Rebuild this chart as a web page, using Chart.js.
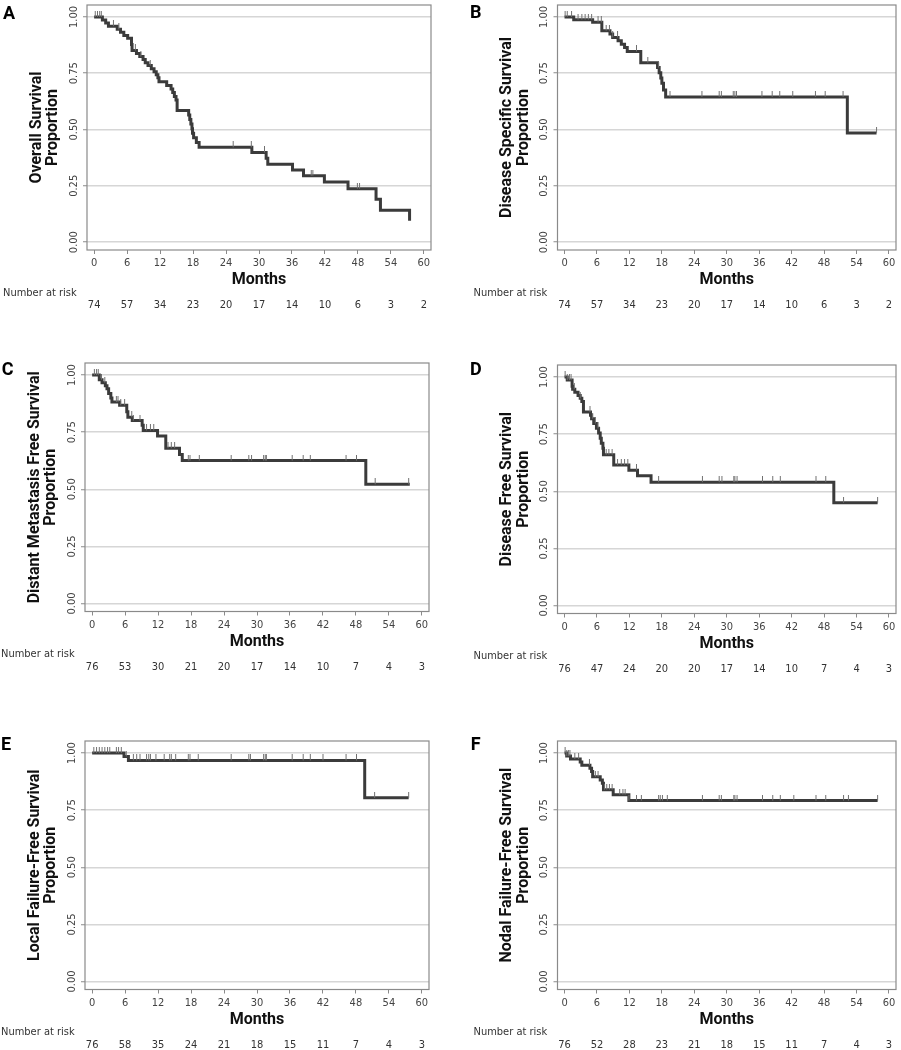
<!DOCTYPE html>
<html>
<head>
<meta charset="utf-8">
<script src="https://cdn.jsdelivr.net/npm/chart.js@4.4.0/dist/chart.umd.min.js"></script>
<style>
  body { margin: 0; background: #fff; }
  #page { position: relative; width: 901px; height: 1050px; overflow: hidden; }
  #page canvas { position: absolute; }
</style>
</head>
<body>
<div id="page"></div>
<script>
// axis ticks shared by all six panels
const xTicks = [0, 6, 12, 18, 24, 30, 36, 42, 48, 54, 60]
const yTicks = [0, 0.25, 0.5, 0.75, 1]

// A - overall survival
const aTimes = [0, 1.5, 2.1, 2.6, 4.2, 4.8, 5.4, 6.1, 6.8, 6.9, 7.7, 8.3, 8.9, 9.3, 9.8, 10.4, 10.9, 11.3, 11.6, 11.8, 13.2, 14.0, 14.3, 14.6, 14.9, 15.1, 17.2, 17.4, 17.6, 17.8, 17.9, 18.1, 18.6, 19.1, 28.7, 31.3, 31.6, 36.1, 38.1, 41.9, 46.2, 51.3, 52.1, 57.4]
const aSurv = [1, 0.986, 0.973, 0.959, 0.945, 0.932, 0.918, 0.905, 0.878, 0.851, 0.838, 0.824, 0.811, 0.797, 0.784, 0.770, 0.757, 0.743, 0.730, 0.712, 0.696, 0.680, 0.664, 0.647, 0.631, 0.585, 0.565, 0.545, 0.524, 0.504, 0.483, 0.463, 0.442, 0.421, 0.398, 0.372, 0.346, 0.320, 0.295, 0.267, 0.237, 0.190, 0.142, 0.095]
const aCensor = [0.2, 0.6, 1.0, 1.3, 3.5, 4.5, 7.5, 8.5, 10.2, 25.3, 28.6, 31.0, 39.5, 39.8, 47.9, 48.3]
const aRisk = [74, 57, 34, 23, 20, 17, 14, 10, 6, 3, 2]

// B - disease specific survival
const bTimes = [0, 1.7, 5.2, 6.9, 8.4, 8.9, 9.9, 10.5, 11.1, 11.6, 14.1, 17.2, 17.5, 17.8, 18.0, 18.3, 18.7, 52.3, 57.7]
const bSurv = [1, 0.988, 0.976, 0.939, 0.924, 0.909, 0.894, 0.879, 0.864, 0.847, 0.797, 0.775, 0.752, 0.729, 0.706, 0.675, 0.645, 0.485, 0.485]
const bCensor = [0.1, 0.5, 1.3, 2.5, 3.2, 3.8, 4.4, 5.0, 6.2, 6.8, 7.7, 8.3, 8.9, 9.8, 13.3, 15.4, 17.4, 19.5, 25.4, 28.6, 29.0, 31.2, 31.5, 31.8, 36.5, 38.4, 39.8, 42.2, 46.4, 48.2, 51.5, 57.7]
const bRisk = [74, 57, 34, 23, 20, 17, 14, 10, 6, 3, 2]

// C - distant metastasis free survival
const cTimes = [0, 1.3, 1.8, 2.4, 2.7, 3.0, 3.4, 3.6, 5.0, 6.3, 6.5, 7.3, 9.1, 9.3, 11.9, 13.4, 15.9, 16.4, 49.8, 57.8]
const cSurv = [1, 0.98, 0.967, 0.953, 0.94, 0.92, 0.9, 0.882, 0.868, 0.84, 0.815, 0.801, 0.78, 0.758, 0.733, 0.68, 0.652, 0.626, 0.522, 0.522]
const cCensor = [0.4, 0.8, 1.1, 1.7, 2.3, 4.4, 4.7, 5.2, 5.9, 7.2, 7.5, 8.7, 9.9, 10.6, 11.2, 13.8, 14.4, 15.0, 17.5, 17.8, 19.5, 25.3, 28.5, 29.0, 31.2, 31.5, 31.7, 36.4, 38.4, 39.7, 46.2, 48.1, 51.5, 57.6]
const cRisk = [76, 53, 30, 21, 20, 17, 14, 10, 7, 4, 3]

// D - disease free survival
const dTimes = [0, 0.5, 1.4, 1.5, 1.9, 2.5, 2.9, 3.2, 3.5, 4.8, 5.0, 5.4, 5.9, 6.3, 6.6, 6.8, 7.1, 7.2, 9.1, 11.9, 13.5, 16.0, 49.8, 57.9]
const dSurv = [1, 0.987, 0.96, 0.947, 0.934, 0.92, 0.907, 0.893, 0.847, 0.833, 0.818, 0.797, 0.776, 0.755, 0.732, 0.71, 0.688, 0.66, 0.615, 0.592, 0.568, 0.54, 0.45, 0.45]
const dCensor = [0.1, 0.5, 0.9, 1.2, 1.8, 2.9, 4.7, 5.2, 5.7, 6.2, 7.7, 8.2, 8.8, 9.8, 10.5, 11.1, 11.7, 13.3, 17.4, 25.5, 28.6, 29.1, 31.3, 31.5, 31.9, 36.6, 38.5, 39.9, 46.5, 48.3, 51.6, 57.9]
const dRisk = [76, 47, 24, 20, 20, 17, 14, 10, 7, 4, 3]

// E - local failure-free survival
const eTimes = [0, 5.8, 6.6, 49.6, 57.6]
const eSurv = [1, 0.985, 0.968, 0.804, 0.804]
const eCensor = [0.3, 0.8, 1.3, 1.8, 2.3, 2.8, 3.2, 4.4, 4.8, 5.3, 6.2, 7.5, 8.1, 8.7, 9.9, 10.3, 10.6, 11.6, 13.1, 14.1, 14.4, 15.2, 17.5, 17.8, 19.3, 25.3, 28.5, 28.8, 31.2, 31.5, 31.7, 36.4, 38.4, 39.7, 42.0, 46.2, 48.1, 51.4, 57.6]
const eRisk = [76, 58, 35, 24, 21, 18, 15, 11, 7, 4, 3]

// F - nodal failure-free survival
const fTimes = [0, 0.4, 1.1, 2.9, 3.2, 4.7, 5.0, 5.2, 6.6, 7.0, 7.2, 9.0, 11.9, 57.9]
const fSurv = [1, 0.987, 0.974, 0.961, 0.947, 0.934, 0.92, 0.896, 0.882, 0.868, 0.84, 0.818, 0.792, 0.792]
const fCensor = [0.1, 0.4, 0.7, 1.0, 1.9, 2.6, 4.6, 5.7, 6.2, 7.4, 7.8, 8.3, 8.8, 10.2, 10.8, 11.2, 11.9, 13.3, 14.2, 17.4, 17.7, 18.1, 19.0, 25.5, 28.6, 29.0, 31.3, 31.5, 31.9, 36.6, 38.5, 39.9, 42.4, 46.5, 48.3, 51.6, 52.5, 57.9]
const fRisk = [76, 52, 28, 23, 21, 18, 15, 11, 7, 4, 3]

const CURVE = '#3b3b3b'
const FRAME = '#8a8a8a'
const GRID = '#d6d6d6'
const TEXT = '#333'
const SMALL = '"DejaVu Sans Condensed", "DejaVu Sans", sans-serif'
const BOLD = 'Roboto, "Liberation Sans", sans-serif'

// canvas = [left, top, w, h], box = plot frame [left, top, right, bottom] in page px
const panels = [
    { letter: 'A', title: ['Overall Survival', 'Proportion'], times: aTimes, surv: aSurv, censor: aCensor, risk: aRisk,
      canvas: [0, 0, 450, 320], box: [87, 2, 431, 250], letterAt: [3, 19.3] },
    { letter: 'B', title: ['Disease Specific Survival', 'Proportion'], times: bTimes, surv: bSurv, censor: bCensor, risk: bRisk,
      canvas: [450, 0, 451, 320], box: [557.5, 2, 900, 250], letterAt: [20, 18.3] },
    { letter: 'C', title: ['Distant Metastasis Free Survival', 'Proportion'], times: cTimes, surv: cSurv, censor: cCensor, risk: cRisk,
      canvas: [0, 330, 450, 345], box: [85, 363, 429, 611.5], letterAt: [1.7, 45] },
    { letter: 'D', title: ['Disease Free Survival', 'Proportion'], times: dTimes, surv: dSurv, censor: dCensor, risk: dRisk,
      canvas: [450, 330, 451, 345], box: [557.5, 365, 900, 613.5], letterAt: [20, 45] },
    { letter: 'E', title: ['Local Failure-Free Survival', 'Proportion'], times: eTimes, surv: eSurv, censor: eCensor, risk: eRisk,
      canvas: [0, 700, 450, 350], box: [85, 741, 429, 989.5], letterAt: [1, 50] },
    { letter: 'F', title: ['Nodal Failure-Free Survival', 'Proportion'], times: fTimes, surv: fSurv, censor: fCensor, risk: fRisk,
      canvas: [450, 700, 451, 350], box: [557.5, 741, 900, 989.5], letterAt: [20.7, 50] },
]

// small tick above the curve for censored patients
const censorMark = document.createElement('canvas')
censorMark.width = 3
censorMark.height = 12
const cm = censorMark.getContext('2d')
cm.fillStyle = '#707070'
cm.fillRect(1, 0, 1, 6)

function survAt(times, surv, t) {
    let s = surv[0]
    for (let i = 0; i < times.length; i++) {
        if (times[i] <= t) s = surv[i]
    }
    return s
}

const framePlugin = {
    id: 'frame',
    beforeDatasetsDraw(chart) {
        const { ctx, chartArea: a } = chart
        ctx.save()
        ctx.strokeStyle = FRAME
        ctx.lineWidth = 1.2
        ctx.strokeRect(a.left, a.top, a.right - a.left, a.bottom - a.top)
        ctx.restore()
    }
}

const riskPlugin = {
    id: 'riskTable',
    afterDraw(chart, args, opts) {
        const { ctx, chartArea: a, scales } = chart
        ctx.save()
        ctx.fillStyle = TEXT
        ctx.font = '11px ' + SMALL
        ctx.textBaseline = 'middle'
        ctx.textAlign = 'left'
        ctx.fillText('Number at risk', a.left - 84, a.bottom + 43)
        ctx.textAlign = 'center'
        xTicks.forEach((t, i) => {
            ctx.fillText(String(opts.risk[i]), scales.x.getPixelForValue(t), a.bottom + 55.5)
        })
        ctx.fillStyle = '#000'
        ctx.font = 'bold 18px ' + BOLD
        ctx.textAlign = 'left'
        ctx.textBaseline = 'alphabetic'
        ctx.fillText(opts.letter, opts.letterAt[0], opts.letterAt[1])
        ctx.restore()
    }
}

function makeChart(p) {
    const [cl, ct, cw, ch] = p.canvas
    const [bl, bt, br, bb] = p.box
    const yAxisW = bl - cl
    const xAxisH = ct + ch - bb

    const cv = document.createElement('canvas')
    cv.width = cw
    cv.height = ch
    cv.style.left = cl + 'px'
    cv.style.top = ct + 'px'
    cv.style.width = cw + 'px'
    cv.style.height = ch + 'px'
    document.querySelector('#page').appendChild(cv)

    new Chart(cv.getContext('2d'), {
        type: 'line',
        data: {
            datasets: [
                {
                    data: p.times.map((t, i) => ({ x: t, y: p.surv[i] })),
                    stepped: true,
                    borderColor: CURVE,
                    borderWidth: 3,
                    pointRadius: 0,
                    fill: false,
                    order: 2
                },
                {
                    data: p.censor.map(t => ({ x: t, y: survAt(p.times, p.surv, t) })),
                    showLine: false,
                    pointStyle: censorMark,
                    pointRadius: 3,
                    order: 1
                }
            ]
        },
        options: {
            responsive: false,
            animation: false,
            devicePixelRatio: 1,
            layout: { padding: { left: 0, top: bt - ct, right: cl + cw - br, bottom: 0 } },
            plugins: {
                legend: { display: false },
                tooltip: { enabled: false },
                riskTable: { risk: p.risk, letter: p.letter, letterAt: p.letterAt }
            },
            scales: {
                x: {
                    type: 'linear',
                    min: -1.3,
                    max: 61.3,
                    afterBuildTicks: s => { s.ticks = xTicks.map(v => ({ value: v })) },
                    afterFit: s => { s.height = xAxisH },
                    border: { display: false },
                    grid: { drawOnChartArea: false, tickLength: 4, tickColor: FRAME, lineWidth: 1 },
                    ticks: { autoSkip: false, maxRotation: 0, padding: 3, color: '#444', font: { family: SMALL, size: 11 } },
                    title: {
                        display: true,
                        text: 'Months',
                        color: '#111',
                        font: { family: BOLD, size: 16, weight: 'bold' },
                        padding: { top: 0, bottom: xAxisH - 30 - 9.6 }
                    }
                },
                y: {
                    min: -0.035,
                    max: 1.053,
                    afterBuildTicks: s => { s.ticks = yTicks.map(v => ({ value: v })) },
                    afterFit: s => { s.width = yAxisW },
                    border: { display: false },
                    grid: { color: GRID, lineWidth: 1.5, tickLength: 4, tickColor: FRAME, tickWidth: 1 },
                    ticks: {
                        autoSkip: false,
                        minRotation: 90,
                        maxRotation: 90,
                        crossAlign: 'center',
                        padding: -2,
                        color: '#444',
                        font: { family: SMALL, size: 11 },
                        callback: v => v.toFixed(2)
                    },
                    title: {
                        display: true,
                        text: p.title,
                        color: '#111',
                        font: { family: BOLD, size: 16, weight: 'bold', lineHeight: 1.05 },
                        padding: { top: yAxisW - 50.4 - 8.4, bottom: 0 }
                    }
                }
            }
        },
        plugins: [framePlugin, riskPlugin]
    })
}

panels.forEach(p => makeChart(p))
</script>
</body>
</html>
